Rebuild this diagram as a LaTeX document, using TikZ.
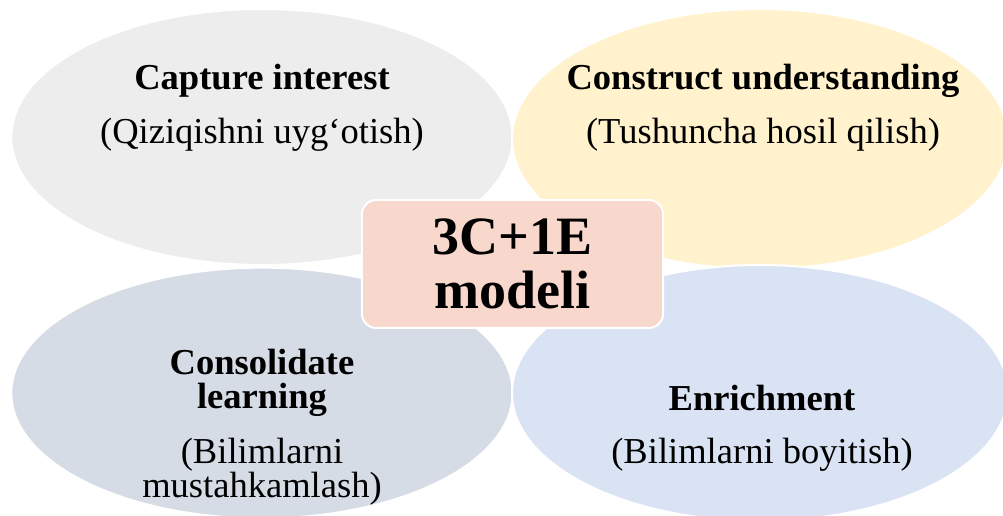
\documentclass[tikz,border=0pt]{standalone}
\usepackage{fontspec}
\setmainfont{Liberation Serif}
\usepackage{xcolor}
\usetikzlibrary{shapes.geometric,positioning}

\definecolor{capgray}{HTML}{EDEDED}
\definecolor{congold}{HTML}{FFF2CC}
\definecolor{consteel}{HTML}{D6DCE5}
\definecolor{enrblue}{HTML}{DAE3F3}
\definecolor{corepink}{HTML}{F8D7CC}

\begin{document}
\begin{tikzpicture}[
  x=0.75pt, y=-0.75pt,
  stage/.style={ellipse, draw=white, line width=1.5pt, inner sep=0pt},
  txt/.style={align=center, font=\fontsize{27.4}{25.5}\selectfont},
  core/.style={draw=white, line width=1.5pt, rounded corners=11pt, fill=corepink,
    minimum width=226pt, minimum height=96pt, align=center,
    font=\fontsize{40.5}{41}\selectfont\bfseries}
]
  \useasboundingbox (0,0) rectangle (1003,516);

  % four phases
  \node[stage, fill=capgray,  minimum width=376pt, minimum height=192pt] (capture) at (262,137) {};
  \node[stage, fill=congold,  minimum width=372pt, minimum height=195pt] (construct) at (760,139) {};
  \node[stage, fill=consteel, minimum width=376pt, minimum height=188pt] (consolidate) at (262,393) {};
  \node[stage, fill=enrblue,  minimum width=372pt, minimum height=192pt] (enrich) at (760,393) {};

  \node[txt] (capturetxt) at (262,108) {\textbf{Capture interest}\\[15pt](Qiziqishni uyg‘otish)};
  \node[txt] (constructtxt) at (763,108) {\textbf{Construct understanding}\\[15pt](Tushuncha hosil qilish)};
  \node[txt] (consolidatetxt) at (262,427) {\textbf{Consolidate}\\\textbf{learning}\\[15.5pt](Bilimlarni\\mustahkamlash)};
  \node[txt] (enrichtxt) at (762,428) {\textbf{Enrichment}\\[14pt](Bilimlarni boyitish)};

  % model name in the middle
  \node[core] (model) at (512.5,264) {3C+1E\\modeli};
\end{tikzpicture}
\end{document}
